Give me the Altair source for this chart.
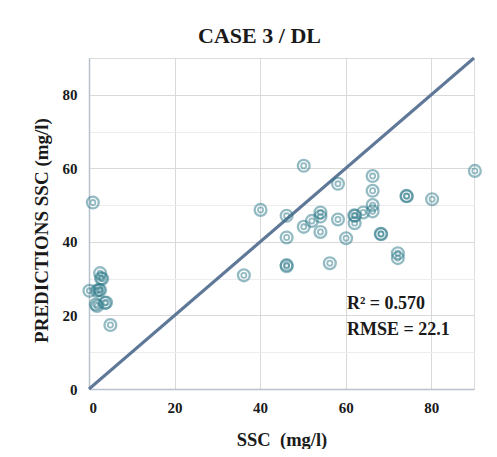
import altair as alt
import pandas as pd

# observed SSC (mg/l)
ssc = [0.9, 0.1, 2.6, 2.8, 3.1, 2.3, 1.8, 2.6, 1.6, 1.9, 4.0, 3.7, 5.0,
       36.2, 40.1, 46.2, 46.2, 46.2, 46.2, 50.2, 50.2, 52.1, 54.1, 54.1, 54.1,
       56.3, 58.2, 58.2, 60.1, 62.0, 62.2, 62.1, 64.1, 66.3, 66.3, 66.3, 66.3,
       68.2, 68.3, 72.2, 72.2, 74.2, 74.3, 80.2, 90.2]
# predicted SSC (mg/l)
pred = [50.7, 26.7, 31.5, 30.1, 30.0, 26.9, 26.7, 26.9, 23.0, 22.6, 23.5, 23.4, 17.4,
        30.9, 48.7, 47.1, 41.2, 33.7, 33.4, 60.7, 44.1, 45.7, 48.0, 46.9, 42.7,
        34.2, 55.8, 46.1, 41.0, 47.2, 47.1, 45.1, 48.0, 57.9, 53.9, 50.0, 48.3,
        42.2, 42.1, 36.9, 35.6, 52.5, 52.4, 51.6, 59.3]

line_x = [0, 90]
line_y = [0, 90]

x_ticks = [0, 20, 40, 60, 80]
y_grid = [0, 10, 20, 30, 40, 50, 60, 70, 80]

stats_text = ["R² = 0.570", "RMSE = 22.1"]
stats_y = [23.0, 16.0]
stats_x = [60.3, 60.3]

df = pd.DataFrame({"ssc": ssc, "pred": pred})
line_df = pd.DataFrame({"x": line_x, "y": line_y})
txt_df = pd.DataFrame({"label": stats_text, "x": stats_x, "y": stats_y})

FONT = "Liberation Serif, Times New Roman, serif"
INK = "#1a1a1a"

xscale = alt.Scale(domain=[0, 90], nice=False)
yscale = alt.Scale(domain=[0, 90], nice=False)

xaxis = alt.Axis(values=x_ticks, title="SSC\u00a0 (mg/l)", ticks=False, labelPadding=11,
                 labelFont=FONT, labelFontSize=15, labelFontWeight="bold", labelColor=INK,
                 titleFont=FONT, titleFontSize=18.5, titleFontWeight="bold", titleColor=INK,
                 gridColor="#d9d9d9", domainColor="#b8c2cc", domainWidth=1.5,
                 titleY=56, titleBaseline="alphabetic")
yaxis = alt.Axis(values=y_grid, title="PREDICTIONS SSC (mg/l)", ticks=False, labelPadding=12,
                 labelExpr="datum.value % 20 === 0 ? datum.label : ''",
                 labelFont=FONT, labelFontSize=15, labelFontWeight="bold", labelColor=INK,
                 titleFont=FONT, titleFontSize=19, titleFontWeight="bold", titleColor=INK,
                 gridColor={"condition": {"test": "datum.value % 20 === 0", "value": "#d9d9d9"},
                            "value": "#ececec"},
                 domainColor="#b8c2cc", domainWidth=1.5,
                 titleX=-42, titleY=172, titleBaseline="alphabetic")

base = alt.Chart(df)

outer = base.mark_point(shape="circle", filled=False, size=140, strokeWidth=2.3,
                        color="#2b7989", opacity=0.5).encode(
    x=alt.X("ssc:Q", scale=xscale, axis=xaxis),
    y=alt.Y("pred:Q", scale=yscale, axis=yaxis),
)
inner = base.mark_point(shape="circle", filled=False, size=26, strokeWidth=1.8,
                        color="#2b7989", opacity=0.5).encode(
    x=alt.X("ssc:Q", scale=xscale),
    y=alt.Y("pred:Q", scale=yscale),
)

diag = alt.Chart(line_df).mark_line(color="#5f7898", strokeWidth=3).encode(
    x=alt.X("x:Q", scale=xscale),
    y=alt.Y("y:Q", scale=yscale),
)

txt = alt.Chart(txt_df).mark_text(align="left", baseline="middle", font=FONT, fontSize=18,
                                  fontWeight="bold", color=INK).encode(
    x=alt.X("x:Q", scale=xscale),
    y=alt.Y("y:Q", scale=yscale),
    text="label:N",
)

chart = alt.layer(diag, outer, inner, txt).properties(
    width=385, height=331,
    title=alt.TitleParams("CASE 3 / DL", font=FONT, fontSize=22, fontWeight="bold",
                          color=INK, frame="group", dx=-22, dy=28, offset=15,
                          baseline="alphabetic"),
    autosize=alt.AutoSizeParams(type="none"),
    padding={"left": 81, "top": 50, "right": 15, "bottom": 60},
).configure_view(stroke="#d9d9d9", strokeWidth=1.2).configure(background="white")

chart.save("out.html", embed_options={"renderer": "svg", "actions": False})
